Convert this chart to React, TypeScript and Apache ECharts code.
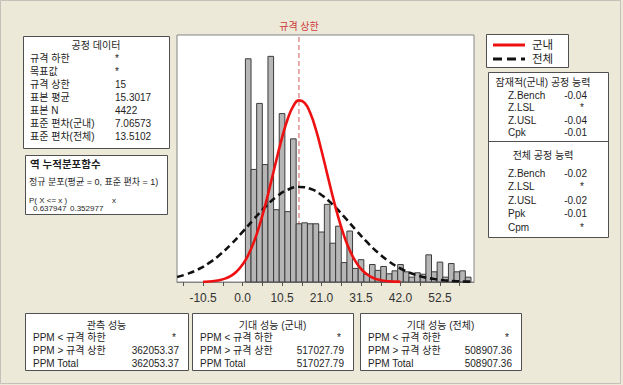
import React, { useEffect, useRef } from 'react';
import * as echarts from 'echarts';

// ---------- data ----------
const binCenters = [1.5, 3.0, 4.5, 6.0, 7.5, 9.0, 10.5, 12.0, 13.5, 15.0, 16.5, 18.0, 19.5, 21.0, 22.5, 24.0, 25.5, 27.0, 28.5, 30.0, 31.5, 33.0, 34.5, 36.0, 37.5, 39.0, 40.5, 42.0, 43.5, 45.0, 46.5, 48.0, 49.5, 51.0, 52.5, 54.0, 55.5, 57.0, 58.5, 60.0];
const binCounts = [460, 232, 368, 242, 465, 149, 347, 145, 295, 120, 122, 120, 120, 103, 160, 80, 115, 40, 105, 28, 46, 16, 36, 24, 32, 17, 23, 36, 21, 10, 19, 16, 56, 21, 41, 10, 38, 21, 23, 10];
const binWidth = 1.5;

const withinX = [-10.5, -9, -7.5, -6, -4.5, -3, -1.5, 0, 1.5, 3, 4.5, 6, 7.5, 9, 10.5, 12, 13.5, 15, 16.5, 18, 19.5, 21, 22.5, 24, 25.5, 27, 28.5, 30, 31.5, 33, 34.5, 36, 37.5, 39, 40.5, 42];
const withinY = [0.5, 1.0, 2.1, 4.0, 7.4, 13.1, 22.2, 35.9, 55.6, 82.3, 116.5, 157.5, 203.7, 251.7, 297.4, 335.8, 362.5, 374.2, 369.2, 348.1, 313.9, 270.5, 222.8, 175.5, 132.1, 95.1, 65.4, 43.0, 27.0, 16.3, 9.3, 5.1, 2.7, 1.4, 0.7, 0.3];

const overallX = [-17.4, -15, -12, -9, -6, -3, 0, 3, 6, 9, 12, 15, 18, 21, 24, 27, 30, 33, 36, 39, 42, 45, 48, 51, 54, 57, 60, 61.5];
const overallY = [10.4, 15.9, 25.4, 38.8, 56.5, 78.2, 103.1, 129.4, 154.6, 175.7, 190.1, 195.8, 192.0, 179.2, 159.2, 134.6, 108.4, 83.1, 60.5, 42.1, 27.8, 17.5, 10.5, 6.0, 3.2, 1.7, 0.8, 0.6];

const usl = 15;
const uslLabel = '규격 상한';
const xMin = -17.44;
const xMax = 61.55;
const yMax = 509;
const tickValues = [-15.75, -10.5, -5.25, 0, 5.25, 10.5, 15.75, 21, 26.25, 31.5, 36.75, 42, 47.25, 52.5, 57.75];
const labelValues = [-10.5, 0, 10.5, 21, 31.5, 42, 52.5];

const processTitle = '공정 데이터';
const processLabels = ['규격 하한', '목표값', '규격 상한', '표본 평균', '표본 N', '표준 편차(군내)', '표준 편차(전체)'];
const processValues = ['*', '*', '15', '15.3017', '4422', '7.06573', '13.5102'];

const invTitle = '역 누적분포함수';
const invSub = '정규 분포(평균 = 0, 표준 편차 = 1)';
const invHeader = ['P( X <= x )', 'x'];
const invValues = ['0.637947', '0.352977'];

const withinCapTitle = '잠재적(군내) 공정 능력';
const withinCapLabels = ['Z.Bench', 'Z.LSL', 'Z.USL', 'Cpk'];
const withinCapValues = ['-0.04', '*', '-0.04', '-0.01'];
const overallCapTitle = '전체 공정 능력';
const overallCapLabels = ['Z.Bench', 'Z.LSL', 'Z.USL', 'Ppk', 'Cpm'];
const overallCapValues = ['-0.02', '*', '-0.02', '-0.01', '*'];

const perfTitles = ['관측 성능', '기대 성능 (군내)', '기대 성능 (전체)'];
const perfLabels = ['PPM < 규격 하한', 'PPM > 규격 상한', 'PPM Total'];
const perfObserved = ['*', '362053.37', '362053.37'];
const perfExpWithin = ['*', '517027.79', '517027.79'];
const perfExpOverall = ['*', '508907.36', '508907.36'];

const legendNames = ['군내', '전체'];

// ---------- layout helpers ----------
const FONT = "'Liberation Sans', 'Noto Sans CJK KR', sans-serif";
const TXT = '#1e1e1e';
const RED = '#ee1111';
const BLACK = '#111111';
const USL_COLOR = '#d05a5a';

function txt(x: number, y: number, text: string, size = 10, align = 'left', extra: any = {}) {
  return {
    type: 'text',
    x,
    y,
    silent: true,
    style: {
      text,
      fill: TXT,
      fontSize: size,
      fontFamily: FONT,
      align,
      verticalAlign: 'middle',
      ...extra,
    },
  };
}

function box(x: number, y: number, w: number, h: number) {
  return {
    type: 'rect',
    silent: true,
    shape: { x, y, width: w, height: h },
    style: { fill: '#ffffff', stroke: '#505050', lineWidth: 1 },
  };
}

function valText(v: string, xr: number, y: number, size = 10) {
  return v === '*' ? txt(xr - 3, y, v, size, 'right') : txt(xr, y, v, size, 'right');
}

function buildGraphics() {
  const g: any[] = [];
  // outer frame
  g.push({ type: 'rect', silent: true, shape: { x: 0.5, y: 0.5, width: 620, height: 383 }, style: { fill: 'none', stroke: '#c4c2b8', lineWidth: 1 } });

  // process data box
  g.push(box(23.5, 36.5, 146, 112));
  g.push(txt(96, 45, processTitle, 10, 'center'));
  processLabels.forEach((l, i) => {
    g.push(txt(30, 58 + i * 13, l, 10));
    g.push(txt(115, 58 + i * 13, processValues[i], 10));
  });

  // inverse cdf box
  g.push(box(25.5, 155.5, 142, 59));
  g.push(txt(30, 164, invTitle, 10.5, 'left', { fontWeight: 'bold' }));
  g.push(txt(29, 182, invSub, 9));
  g.push(txt(29, 200, invHeader[0], 8));
  g.push(txt(112, 200, invHeader[1], 8));
  g.push(txt(33, 208.5, invValues[0], 8));
  g.push(txt(70, 208.5, invValues[1], 8));

  // legend box
  g.push(box(486.5, 34.5, 82, 33));
  g.push({ type: 'line', silent: true, shape: { x1: 493, y1: 45, x2: 525, y2: 45 }, style: { stroke: RED, lineWidth: 3 } });
  g.push({ type: 'line', silent: true, shape: { x1: 493, y1: 59, x2: 525, y2: 59 }, style: { stroke: BLACK, lineWidth: 3, lineDash: [9, 5] } });
  g.push(txt(532, 45, legendNames[0], 11.5));
  g.push(txt(532, 59, legendNames[1], 11.5));

  // capability box
  g.push(box(488.5, 72.5, 120, 165));
  g.push({ type: 'line', silent: true, shape: { x1: 488.5, y1: 141.5, x2: 608.5, y2: 141.5 }, style: { stroke: '#505050', lineWidth: 1 } });
  g.push(txt(543, 82, withinCapTitle, 10, 'center'));
  withinCapLabels.forEach((l, i) => {
    const y = 95 + i * 12.5;
    g.push(txt(508, y, l, 10));
    g.push(valText(withinCapValues[i], 587, y));
  });
  g.push(txt(543, 155, overallCapTitle, 10, 'center'));
  overallCapLabels.forEach((l, i) => {
    const y = 173 + i * 13.5;
    g.push(txt(508, y, l, 10));
    g.push(valText(overallCapValues[i], 587, y));
  });

  // performance boxes
  const bx = [25, 192, 360];
  const bw = [163, 161, 161];
  const vals = [perfObserved, perfExpWithin, perfExpOverall];
  bx.forEach((x0, k) => {
    g.push(box(x0 + 0.5, 313.5, bw[k], 57));
    g.push(txt(x0 + bw[k] / 2, 325, perfTitles[k], 10, 'center'));
    perfLabels.forEach((l, i) => {
      const y = 337.5 + i * 13;
      g.push(txt(x0 + 8, y, l, 10));
      g.push(valText(vals[k][i], x0 + bw[k] - 9, y));
    });
  });
  return g;
}

export default function App() {
  const ref = useRef<HTMLDivElement>(null);

  useEffect(() => {
    if (!ref.current) return;
    const chart = echarts.init(ref.current, undefined, { renderer: 'svg' });
    const option: any = {
      animation: false,
      backgroundColor: '#ECE9D8',
      grid: {
        left: 177,
        top: 35,
        width: 297,
        height: 247,
        show: true,
        backgroundColor: '#ffffff',
        borderColor: '#858585',
        borderWidth: 1,
      },
      xAxis: {
        type: 'value',
        min: xMin,
        max: xMax,
        splitLine: { show: false },
        axisLine: { show: true, onZero: false, lineStyle: { color: '#858585' } },
        axisTick: { show: true, length: 4, customValues: tickValues, lineStyle: { color: '#555' } },
        axisLabel: {
          customValues: labelValues,
          formatter: (v: number) => v.toFixed(1),
          color: '#333',
          fontFamily: FONT,
          fontSize: 12,
          margin: 10,
        },
      },
      yAxis: {
        type: 'value',
        min: 0,
        max: yMax,
        show: false,
        splitLine: { show: false },
      },
      series: [
        {
          name: 'USL',
          type: 'line',
          data: [[usl, 0], [usl, yMax]],
          z: 1,
          symbol: 'none',
          silent: true,
          lineStyle: { color: USL_COLOR, type: [5, 3], width: 1 },
          itemStyle: { color: USL_COLOR },
          markPoint: {
            silent: true,
            symbol: 'circle',
            symbolSize: 0,
            label: {
              show: true,
              position: 'top',
              distance: 4,
              formatter: uslLabel,
              color: '#cc3a3a',
              fontFamily: FONT,
              fontSize: 10,
            },
            data: [{ coord: [usl, yMax] }],
          },
        },
        {
          name: 'hist',
          type: 'custom',
          z: 2,
          data: binCenters.map((c, i) => [c, binCounts[i]]),
          encode: { x: 0, y: 1 },
          renderItem: (params: any, api: any) => {
            const c = api.value(0);
            const h = api.value(1);
            const p0 = api.coord([c - binWidth / 2, h]);
            const p1 = api.coord([c + binWidth / 2, 0]);
            return {
              type: 'rect',
              shape: { x: p0[0], y: p0[1], width: p1[0] - p0[0], height: p1[1] - p0[1] },
              style: { fill: '#b6b6b6', stroke: '#3c3c3c', lineWidth: 1 },
            };
          },
        },
        {
          name: legendNames[0],
          type: 'line',
          z: 4,
          symbol: 'none',
          smooth: true,
          data: withinX.map((x, i) => [x, withinY[i]]),
          lineStyle: { color: RED, width: 2.6 },
          itemStyle: { color: RED },
        },
        {
          name: legendNames[1],
          type: 'line',
          z: 3,
          symbol: 'none',
          smooth: true,
          data: overallX.map((x, i) => [x, overallY[i]]),
          lineStyle: { color: BLACK, width: 2.6, type: [7, 4] },
          itemStyle: { color: BLACK },
        },
      ],
      graphic: { elements: buildGraphics() },
    };
    chart.setOption(option);
    return () => chart.dispose();
  }, []);

  return (
    <div
      ref={ref}
      style={{ position: 'absolute', left: 0, top: 0, width: 623, height: 385 }}
    />
  );
}
